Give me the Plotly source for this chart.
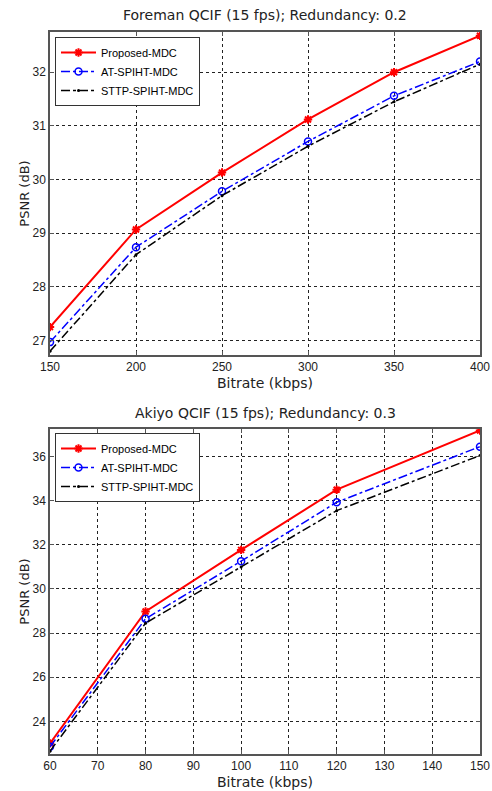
import plotly.graph_objects as go

# Foreman QCIF, redundancy 0.2
foreman_rate = [150, 200, 250, 300, 350, 400]
foreman_proposed = [27.25, 29.07, 30.13, 31.12, 32.0, 32.68]
foreman_at = [26.97, 28.74, 29.78, 30.71, 31.56, 32.2]
foreman_sttp = [26.8, 28.6, 29.7, 30.62, 31.45, 32.15]

# Akiyo QCIF, redundancy 0.3
akiyo_rate = [60, 80, 100, 120, 150]
akiyo_proposed = [23.0, 28.98, 31.77, 34.5, 37.18]
akiyo_at = [22.85, 28.65, 31.26, 33.93, 36.45]
akiyo_sttp = [22.65, 28.45, 31.0, 33.55, 36.05]

names = ['Proposed-MDC', 'AT-SPIHT-MDC', 'STTP-SPIHT-MDC']
styles = [
    dict(line=dict(color='#ff0000', width=2, dash='solid'),
         marker=dict(symbol='asterisk-open', size=7, color='#ff0000', line=dict(width=2, color='#ff0000'))),
    dict(line=dict(color='#0000ff', width=1.5, dash='dashdot'),
         marker=dict(symbol='circle-open', size=7, color='#0000ff', line=dict(width=1.5, color='#0000ff'))),
    dict(line=dict(color='#000000', width=1.5, dash='dashdot'),
         marker=dict(symbol='circle', size=3, color='#000000')),
]

fig = go.Figure()

top = [foreman_proposed, foreman_at, foreman_sttp]
bot = [akiyo_proposed, akiyo_at, akiyo_sttp]
for i in range(3):
    fig.add_trace(go.Scatter(x=foreman_rate, y=top[i], name=names[i], mode='lines+markers',
                             xaxis='x', yaxis='y', legend='legend', **styles[i]))
for i in range(3):
    fig.add_trace(go.Scatter(x=akiyo_rate, y=bot[i], name=names[i], mode='lines+markers',
                             xaxis='x2', yaxis='y2', legend='legend2', **styles[i]))

W, H = 492, 791


def px(x):
    return x / W


def py(y):
    return (H - y) / H


x0, x1 = px(50), px(480)

axis_common = dict(showline=True, linecolor='#555555', linewidth=1.5, mirror='ticks',
                   ticks='inside', ticklen=4, tickcolor='#555555', automargin=False,
                   showgrid=True, gridcolor='#222222', gridwidth=1, griddash='dot',
                   zeroline=False, tickfont=dict(family='Liberation Sans', size=12, color='#222222'))
xfont = dict(family='DejaVu Sans', size=14, color='#222222')
yfont = dict(family='DejaVu Sans', size=13, color='#222222')
lfont = dict(family='Liberation Sans', size=11, color='#000000')

fig.update_layout(
    width=W, height=H, margin=dict(l=0, r=0, t=0, b=0),
    paper_bgcolor='white', plot_bgcolor='white',
    xaxis=dict(domain=[x0, x1], anchor='y', range=[150, 400], tickvals=foreman_rate,
               title=dict(text='Bitrate (kbps)', standoff=5, font=xfont), **axis_common),
    yaxis=dict(domain=[py(355), py(32)], anchor='x', range=[26.73, 32.75],
               tickvals=[27, 28, 29, 30, 31, 32],
               title=dict(text='PSNR (dB)', standoff=0, font=yfont), **axis_common),
    xaxis2=dict(domain=[x0, x1], anchor='y2', range=[60, 150],
                tickvals=[60, 70, 80, 90, 100, 110, 120, 130, 140, 150],
                title=dict(text='Bitrate (kbps)', standoff=5, font=xfont), **axis_common),
    yaxis2=dict(domain=[py(754), py(429)], anchor='x2', range=[22.52, 37.25],
                tickvals=[24, 26, 28, 30, 32, 34, 36],
                title=dict(text='PSNR (dB)', standoff=0, font=yfont), **axis_common),
    legend=dict(x=px(55), y=py(37), xanchor='left', yanchor='top',
                bgcolor='white', bordercolor='#333333', borderwidth=1,
                font=lfont, tracegroupgap=0, itemwidth=35),
    legend2=dict(x=px(55), y=py(433), xanchor='left', yanchor='top',
                 bgcolor='white', bordercolor='#333333', borderwidth=1,
                 font=lfont, tracegroupgap=0, itemwidth=35),
    annotations=[
        dict(text='Foreman QCIF (15 fps); Redundancy: 0.2', x=0.5 * (x0 + x1), y=py(15),
             xref='paper', yref='paper', showarrow=False, yanchor='middle',
             font=dict(family='DejaVu Sans', size=14, color='#222222')),
        dict(text='Akiyo QCIF (15 fps); Redundancy: 0.3', x=0.5 * (x0 + x1), y=py(413),
             xref='paper', yref='paper', showarrow=False, yanchor='middle',
             font=dict(family='DejaVu Sans', size=14, color='#222222')),
    ],
)

# drop the default page margin so the figure sits at the window's corner
fig.write_html("out.html", config={'displayModeBar': False},
               post_script="document.body.style.margin='0';")
